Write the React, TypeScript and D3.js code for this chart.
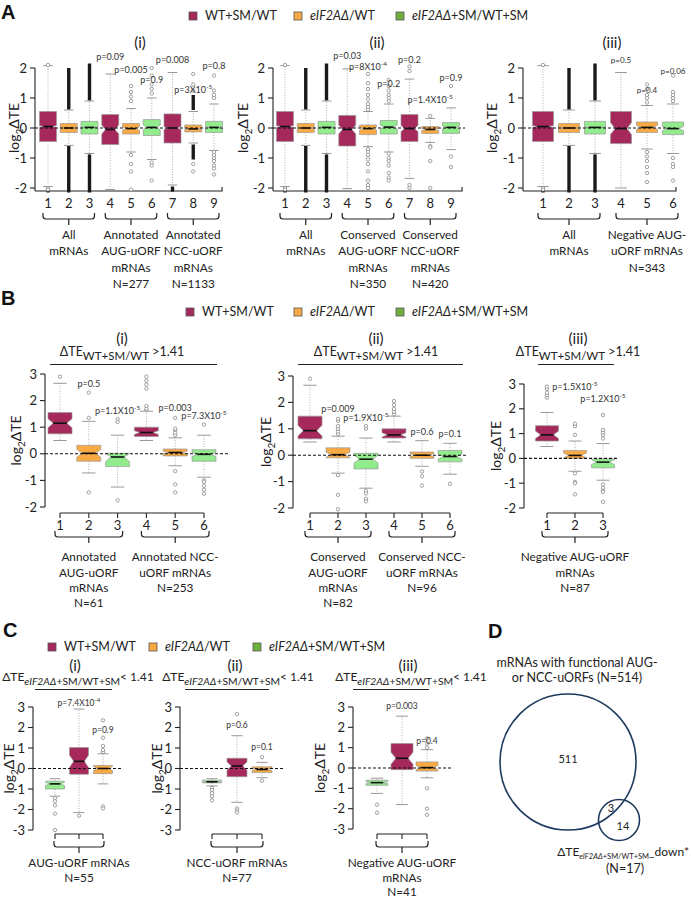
import React from "react";
import * as d3 from "d3";

const FONT = "Lato, 'Noto Sans', sans-serif";
const MAROON = "#A5295B";
const ORANGE = "#F8AA44";
const GREEN = "#92EC8E";
const LEG_GREEN = "#6DB13C";
const SERIES_COLOR: Record<string, string> = { wt: MAROON, ko: ORANGE, kosm: GREEN };

// ---------- shared "all mRNAs" boxes ----------
// stats: [lower whisker, Q1, median, Q3, upper whisker]
const ALL_STATS = [
  [-1.95, -0.45, 0.05, 0.55, 2.08],
  [-0.58, -0.15, 0.0, 0.15, 0.6],
  [-0.85, -0.2, 0.02, 0.22, 0.9],
];
const ALL_NOTCH = [0.03, 0.01, 0.01];
const ALL_OUT = [[2.1, -2.0, -2.05], [], []];
const ALL_DENSE = [[[-2.15, -1.98]], [[0.62, 2.0], [-2.15, -0.6]], [[0.92, 2.15], [-2.15, -0.88]]];

// ---------- Panel A ----------
const A_CATS9 = ["1", "2", "3", "4", "5", "6", "7", "8", "9"];
const A_CATS6 = ["1", "2", "3", "4", "5", "6"];
const A_SERIES = ["wt", "ko", "kosm", "wt", "ko", "kosm", "wt", "ko", "kosm"];

const A1_STATS = [
  ...ALL_STATS,
  [-2.05, -0.55, -0.05, 0.45, 1.8],
  [-0.8, -0.2, -0.02, 0.15, 0.65],
  [-1.05, -0.25, 0.02, 0.28, 1.0],
  [-1.9, -0.5, 0.0, 0.47, 1.85],
  [-0.5, -0.13, -0.03, 0.1, 0.55],
  [-0.75, -0.15, 0.02, 0.22, 0.8],
];
const A1_NOTCH = [...ALL_NOTCH, 0.15, 0.06, 0.08, 0.05, 0.02, 0.03];
const A1_OUT = [
  ...ALL_OUT,
  [],
  [1.4, 1.2, 1.05, 0.9, -0.9, -1.2, -1.45, -2.05],
  [2.0, 1.75, 1.45, 1.3, 1.15, -1.15, -1.25, -1.75],
  [],
  [1.25, 1.45, 1.8, -1.2, -1.45],
  [1.0, 1.1, 1.25, 1.75, -0.8, -0.9, -1.0, -1.1, -1.25, -1.35, -1.55],
];
const A1_DENSE = [...ALL_DENSE, [], [], [], [[-2.12, -1.95]], [[0.6, 1.1], [-1.05, -0.55]], []];
const A1_P = [null, null, null, "p=0.09", "p=0.005", "p=0.9", "p=0.008", "p=3X10^-5", "p=0.8"];
const A1_PY = [0, 0, 0, 2.27, 1.83, 1.5, 2.17, 1.17, 1.97];
const A1_GROUPS = [["All", "mRNAs"], ["Annotated", "AUG-uORF", "mRNAs", "N=277"], ["Annotated", "NCC-uORF", "mRNAs", "N=1133"]];
const A1_SPANS = [[0, 2], [3, 5], [6, 8]];

const A2_STATS = [
  ...ALL_STATS,
  [-2.02, -0.6, -0.05, 0.42, 1.97],
  [-0.62, -0.22, -0.02, 0.1, 0.55],
  [-0.8, -0.2, 0.03, 0.25, 0.8],
  [-1.68, -0.45, -0.02, 0.45, 1.63],
  [-0.48, -0.18, -0.05, 0.05, 0.32],
  [-0.72, -0.18, 0.02, 0.18, 0.67],
];
const A2_NOTCH = [...ALL_NOTCH, 0.15, 0.05, 0.07, 0.1, 0.04, 0.05];
const A2_OUT = [
  ...ALL_OUT,
  [],
  [0.62, 0.7, 0.8, 0.95, 1.1, 1.3, 1.5, 1.8, -0.7, -0.8, -0.9, -1.05, -1.2, -1.45, -1.75, -1.9, -2.0],
  [0.9, 1.0, 1.1, 1.25, 1.4, 1.6, -0.85, -1.0, -1.1, -1.25, -1.5, -1.65, -1.75],
  [1.9, 2.05, -1.9, -2.0],
  [0.4, -0.6, -0.65, -1.1, -2.0],
  [1.4, -0.95, -1.3],
];
const A2_DENSE = [...ALL_DENSE, [], [], [], [], [], []];
const A2_P = [null, null, null, "p=0.03", "p=8X10^-4", "p=0.2", "p=0.2", "p=1.4X10^-5", "p=0.9"];
const A2_PY = [0, 0, 0, 2.3, 1.93, 1.37, 2.17, 0.83, 1.57];
const A2_GROUPS = [["All", "mRNAs"], ["Conserved", "AUG-uORF", "mRNAs", "N=350"], ["Conserved", "NCC-uORF", "mRNAs", "N=420"]];

const A3_STATS = [
  ...ALL_STATS,
  [-2.0, -0.52, -0.02, 0.55, 1.85],
  [-0.7, -0.15, 0.02, 0.2, 0.75],
  [-0.85, -0.22, -0.02, 0.2, 0.8],
];
const A3_NOTCH = [...ALL_NOTCH, 0.2, 0.07, 0.07];
const A3_OUT = [
  ...ALL_OUT,
  [],
  [0.85, 1.0, 1.1, 1.3, 1.45, -0.8, -0.95, -1.1, -1.3, -1.5, -1.8],
  [0.9, 1.0, 1.1, 1.2, 1.75, -1.0, -1.2, -1.3, -1.75],
];
const A3_DENSE = [...ALL_DENSE, [], [], []];
const A3_P = [null, null, null, "p=0.5", "p=0.4", "p=0.06"];
const A3_PY = [0, 0, 0, 2.16, 1.18, 1.8];
const A3_GROUPS = [["All", "mRNAs"], ["Negative AUG-", "uORF mRNAs", "N=343"]];
const A3_SPANS = [[0, 2], [3, 5]];

// ---------- Panel B ----------
const B_SERIES = ["wt", "ko", "kosm", "wt", "ko", "kosm"];
const B1_STATS = [
  [0.5, 0.75, 1.15, 1.55, 2.65],
  [-0.72, -0.28, 0.02, 0.32, 1.22],
  [-1.25, -0.48, -0.12, 0.02, 0.7],
  [0.5, 0.65, 0.8, 1.0, 1.6],
  [-0.45, -0.08, 0.05, 0.18, 0.6],
  [-0.88, -0.28, -0.02, 0.15, 0.7],
];
const B1_NOTCH = [0.17, 0.15, 0.18, 0.07, 0.05, 0.08];
const B1_OUT = [
  [2.9],
  [2.3, 1.35, -1.45],
  [1.3, 1.2, -1.75],
  [1.65, 1.7, 1.8, 2.45, 2.6, 2.75, 2.9],
  [0.7, 0.8, 0.9, 0.95, 1.35, -0.65, -1.15, -1.45],
  [1.1, -1.0, -1.05, -1.2, -1.35, -1.5],
];
const B1_P = [null, "p=0.5", "p=1.1X10^-5", null, "p=0.003", "p=7.3X10^-5"];
const B1_PY = [0, 2.5, 1.5, 0, 1.6, 1.3];
const B1_GROUPS = [["Annotated", "AUG-uORF", "mRNAs", "N=61"], ["Annotated NCC-", "uORF mRNAs", "N=253"]];
const B_SPANS = [[0, 2], [3, 5]];

const B2_STATS = [
  [0.5, 0.62, 0.93, 1.48, 2.65],
  [-0.68, -0.1, 0.02, 0.28, 0.72],
  [-1.25, -0.52, -0.15, 0.07, 0.65],
  [0.5, 0.65, 0.77, 1.0, 1.48],
  [-0.42, -0.12, 0.0, 0.12, 0.55],
  [-0.72, -0.25, -0.05, 0.18, 0.45],
];
const B2_NOTCH = [0.2, 0.1, 0.15, 0.08, 0.06, 0.1];
const B2_OUT = [
  [2.9],
  [0.8, 0.9, 1.0, 1.1, 1.3, 1.38, -0.75, -1.5, -2.05],
  [1.0, 1.1, -1.35, -1.45, -1.65, -1.75],
  [1.55, 1.65, 1.75, 1.9, 2.05],
  [-0.62, -0.8, -1.15],
  [-1.08],
];
const B2_P = [null, "p=0.009", "p=1.9X10^-5", null, "p=0.6", "p=0.1"];
const B2_PY = [0, 1.65, 1.3, 0, 0.78, 0.68];
const B2_GROUPS = [["Conserved", "AUG-uORF", "mRNAs", "N=82"], ["Conserved NCC-", "uORF mRNAs", "N=96"]];

const B3_CATS = ["1", "2", "3"];
const B3_STATS = [
  [0.48, 0.7, 0.95, 1.32, 1.85],
  [-0.52, 0.0, 0.12, 0.32, 0.7],
  [-0.88, -0.38, -0.15, -0.02, 0.6],
];
const B3_NOTCH = [0.15, 0.1, 0.1];
const B3_OUT = [
  [2.45, 2.55, 2.65, 2.8, 2.9],
  [0.95, 1.3, 1.4, -0.6, -0.95, -1.0, -1.45],
  [0.8, 0.95, 1.05, 1.15, 1.75, -1.05, -1.2, -1.3, -1.35, -1.75],
];
const B3_P = [null, "p=1.5X10^-5", "p=1.2X10^-5"];
const B3_PY = [0, 2.75, 2.27];
const B3_GROUPS = [["Negative AUG-uORF", "mRNAs", "N=87"]];
const ONE_SPAN = [[0, 2]];

// ---------- Panel C ----------
const C_CATS = ["1", "2", "3"];
const C_SERIES = ["kosm", "wt", "ko"];
const C1_STATS = [
  [-1.35, -1.0, -0.75, -0.62, -0.5],
  [-2.15, -0.28, 0.35, 1.02, 2.9],
  [-0.75, -0.25, 0.0, 0.15, 0.72],
];
const C1_NOTCH = [0.08, 0.3, 0.1];
const C1_OUT = [[-1.45, -1.6, -1.8, -2.2, -3.0], [-2.3], [0.8, 0.9, 1.1, 1.5, 2.35, -1.85, -1.95]];
const C1_P = [null, "p=7.4X10^-4", "p=0.9"];
const C1_PY = [0, 3.05, 1.75];
const C1_GROUPS = [["AUG-uORF mRNAs", "N=55"]];

const C2_STATS = [
  [-0.85, -0.7, -0.65, -0.57, -0.5],
  [-1.65, -0.4, 0.12, 0.5, 1.6],
  [-0.45, -0.2, -0.05, 0.08, 0.3],
];
const C2_NOTCH = [0.04, 0.2, 0.06];
const C2_OUT = [[-0.95, -1.05, -1.2, -1.35, -1.55], [2.65, -1.95, -2.05, -2.15], [0.55, -0.6]];
const C2_P = [null, "p=0.6", "p=0.1"];
const C2_PY = [0, 2.0, 0.9];
const C2_GROUPS = [["NCC-uORF mRNAs", "N=77"]];

const C3_STATS = [
  [-1.25, -0.85, -0.72, -0.6, -0.5],
  [-1.8, -0.08, 0.48, 1.2, 2.55],
  [-0.48, -0.15, 0.02, 0.3, 0.9],
];
const C3_NOTCH = [0.05, 0.3, 0.1];
const C3_OUT = [[-1.8, -2.2], [], [1.0, 1.2, 1.45, -1.0, -2.0, -2.3]];
const C3_P = [null, "p=0.003", "p=0.4"];
const C3_PY = [0, 2.9, 1.2];
const C3_GROUPS = [["Negative AUG-uORF", "mRNAs", "N=41"]];

// ---------- Panel D ----------
const D_TITLE = ["mRNAs with functional AUG-", "or NCC-uORFs (N=514)"];
const D_COUNTS = [511, 3, 14];
const D_SMALL_N = "(N=17)";

const LEGEND = [
  { key: "wt", color: MAROON, parts: [{ t: "WT+SM/WT", i: false }] },
  { key: "ko", color: ORANGE, parts: [{ t: "eIF2AΔ", i: true }, { t: "/WT", i: false }] },
  { key: "kosm", color: LEG_GREEN, parts: [{ t: "eIF2AΔ", i: true }, { t: "+SM/WT+SM", i: false }] },
];

type Layout = {
  yAxisX: number; yRange: [number, number]; domain: [number, number]; xRange: [number, number];
  boxW: number; axisY: number; style: "L" | "sep"; xEnd: number; dashEnd: number;
  numOff: number | null; brace: [number, number, number]; braceOver: number; lab0: number; lh: number;
  pFont: number; yLabelX: number;
};

type PanelProps = {
  cats: string[]; series: string[]; stats: number[][]; notch: number[]; outliers: number[][];
  dense?: number[][][]; pText: (string | null)[]; pY: number[]; groups: string[][]; spans: number[][];
  L: Layout;
};

function PLabel({ x, y, text, size }: { x: number; y: number; text: string; size: number }) {
  const [base, exp] = text.split("^");
  return (
    <text x={x} y={y} textAnchor="middle" fontSize={size} fill="#333">
      {base}
      {exp && <tspan fontSize={size * 0.72} dy={-size * 0.42}>{exp}</tspan>}
    </text>
  );
}

function boxPath(cx: number, w: number, s: number[], n: number, y: d3.ScaleLinear<number, number>) {
  const l = cx - w / 2, r = cx + w / 2, ins = w * 0.22;
  const [, q1, md, q3] = s;
  const hi = Math.min(md + n, q3), lo = Math.max(md - n, q1);
  return `M${l},${y(q3)}H${r}V${y(hi)}L${r - ins},${y(md)}L${r},${y(lo)}V${y(q1)}H${l}V${y(lo)}L${l + ins},${y(md)}L${l},${y(hi)}Z`;
}

function BoxPanel({ cats, series, stats, notch, outliers, dense, pText, pY, groups, spans, L }: PanelProps) {
  const y = d3.scaleLinear().domain(L.domain).range(L.yRange);
  const x = d3.scalePoint<string>().domain(cats).range(L.xRange);
  const ticks = y.ticks(L.domain[1] - L.domain[0]);
  const top = y(L.domain[1]);
  const bot = y(L.domain[0]);
  const [bTop, bBar, bTick] = L.brace;
  return (
    <g fontFamily={FONT}>
      {/* y axis */}
      <line x1={L.yAxisX} x2={L.yAxisX} y1={top} y2={L.style === "L" ? L.axisY : bot} stroke="#222" strokeWidth={1.1} />
      {ticks.map((t) => (
        <g key={t}>
          <line x1={L.yAxisX - 5} x2={L.yAxisX} y1={y(t)} y2={y(t)} stroke="#222" strokeWidth={1.1} />
          <text x={L.yAxisX - 8} y={y(t)} dy="0.35em" textAnchor="end" fontSize={13} fill="#222">{t}</text>
        </g>
      ))}
      <text transform={`translate(${L.yLabelX},${(top + bot) / 2}) rotate(-90)`} textAnchor="middle" dy="0.35em" fontSize={14} fill="#222">
        log<tspan fontSize={10} dy={4}>2</tspan><tspan dy={-4}>ΔTE</tspan>
      </text>
      {/* x axis */}
      {L.style === "L" ? (
        <path d={`M${L.yAxisX},${L.axisY}H${L.xEnd}V${L.axisY - 4}`} fill="none" stroke="#222" strokeWidth={1.1} />
      ) : (
        <g>
          <line x1={x(cats[0])!} x2={x(cats[cats.length - 1])!} y1={L.axisY} y2={L.axisY} stroke="#222" strokeWidth={1.1} />
          {cats.map((c) => (
            <line key={c} x1={x(c)!} x2={x(c)!} y1={L.axisY} y2={L.axisY + 5} stroke="#222" strokeWidth={1.1} />
          ))}
        </g>
      )}
      {L.numOff !== null &&
        cats.map((c) => (
          <text key={c} x={x(c)!} y={L.axisY + L.numOff!} dy="0.35em" textAnchor="middle" fontSize={13} fill="#222">{c}</text>
        ))}
      {/* boxes */}
      {stats.map((s, i) => {
        const cx = x(cats[i])!;
        const w = L.boxW;
        const [lw, q1, md, q3, uw] = s;
        const ins = w * 0.22;
        return (
          <g key={i}>
            <line x1={cx} x2={cx} y1={y(q3)} y2={y(uw)} stroke="#999" strokeWidth={0.8} strokeDasharray="1,1.6" />
            <line x1={cx} x2={cx} y1={y(q1)} y2={y(lw)} stroke="#999" strokeWidth={0.8} strokeDasharray="1,1.6" />
            <line x1={cx - w * 0.28} x2={cx + w * 0.28} y1={y(uw)} y2={y(uw)} stroke="#999" strokeWidth={1} />
            <line x1={cx - w * 0.28} x2={cx + w * 0.28} y1={y(lw)} y2={y(lw)} stroke="#999" strokeWidth={1} />
            {(dense?.[i] ?? []).map((r, k) => (
              <line key={k} x1={cx} x2={cx} y1={y(r[0])} y2={y(r[1])} stroke="#1a1a1a" strokeWidth={3.4} />
            ))}
            {outliers[i].map((o, k) => (
              <circle key={k} cx={cx} cy={y(o)} r={1.7} fill="#fff" stroke="#8a8a8a" strokeWidth={0.8} />
            ))}
            <path d={boxPath(cx, w, s, notch[i], y)} fill={SERIES_COLOR[series[i]]} stroke="#9a9a9a" strokeWidth={0.7} />
            <line x1={cx - w / 2 + ins} x2={cx + w / 2 - ins} y1={y(md)} y2={y(md)} stroke="#111" strokeWidth={1.6} />
          </g>
        );
      })}
      {/* zero line */}
      <line x1={L.yAxisX} x2={L.dashEnd} y1={y(0)} y2={y(0)} stroke="#111" strokeWidth={1.1} strokeDasharray="3,2" />
      {/* p-values */}
      {pText.map((p, i) => (p ? <PLabel key={i} x={x(cats[i])!} y={y(pY[i])} text={p} size={L.pFont} /> : null))}
      {/* group braces */}
      {spans.map(([a, b], gi) => {
        const x0 = x(cats[a])! - L.braceOver, x1 = x(cats[b])! + L.braceOver, cx = (x0 + x1) / 2, r = 3;
        return (
          <g key={gi}>
            <path
              d={`M${x0},${bTop}V${bBar - r}Q${x0},${bBar} ${x0 + r},${bBar}H${x1 - r}Q${x1},${bBar} ${x1},${bBar - r}V${bTop}M${cx},${bBar}V${bTick}`}
              fill="none" stroke="#222" strokeWidth={1.2}
            />
            {groups[gi].map((t, li) => (
              <text key={li} x={cx} y={L.lab0 + li * L.lh} dy="0.35em" textAnchor="middle" fontSize={11.8} fill="#222">{t}</text>
            ))}
          </g>
        );
      })}
    </g>
  );
}

function Legend({ y, xs }: { y: number; xs: number[] }) {
  return (
    <g fontFamily={FONT} fontSize={12.5} fill="#222">
      {LEGEND.map((d, i) => (
        <g key={d.key}>
          <rect x={xs[i] - 4} y={y - 4} width={8} height={8} fill={d.color} stroke="#555" strokeWidth={0.8} />
          <text x={xs[i] + 12} y={y} dy="0.35em">
            {d.parts.map((p, k) => (
              <tspan key={k} fontStyle={p.i ? "italic" : "normal"}>{p.t}</tspan>
            ))}
          </text>
        </g>
      ))}
    </g>
  );
}

function TitleB({ cx, num, x0, x1 }: { cx: number; num: string; x0: number; x1: number }) {
  return (
    <g fontFamily={FONT} fill="#222">
      <text x={cx} y={339} dy="0.35em" textAnchor="middle" fontSize={15}>{num}</text>
      <text x={cx} y={356} textAnchor="middle" fontSize={12.5}>
        ΔTE<tspan fontSize={11.5} dy={4}>WT+SM/WT</tspan><tspan dy={-4}> &gt;1.41</tspan>
      </text>
      <line x1={x0} x2={x1} y1={364.5} y2={364.5} stroke="#222" strokeWidth={1.2} />
    </g>
  );
}

function TitleC({ cx, num, x0, x1 }: { cx: number; num: string; x0: number; x1: number }) {
  return (
    <g fontFamily={FONT} fill="#222">
      <text x={cx - 3} y={666} dy="0.35em" textAnchor="middle" fontSize={15}>{num}</text>
      <text x={cx} y={681} textAnchor="middle" fontSize={12}>
        ΔTE<tspan fontSize={10.3} dy={3.5} fontStyle="italic">eIF2AΔ</tspan><tspan fontSize={10.3}>+SM/WT+SM</tspan><tspan dy={-3.5}>&lt; 1.41</tspan>
      </text>
      <line x1={x0} x2={x1} y1={689.5} y2={689.5} stroke="#222" strokeWidth={1.2} />
    </g>
  );
}

const A_BASE = { domain: [-2, 2] as [number, number], yRange: [188, 68] as [number, number], axisY: 191, style: "L" as const, numOff: 12, brace: [213, 219, 225] as [number, number, number], braceOver: 5, lab0: 235, lh: 16.3 };
const B_BASE = { domain: [-2, 3] as [number, number], axisY: 513, style: "sep" as const, numOff: 12, brace: [531, 537, 543] as [number, number, number], braceOver: 5, lab0: 557, lh: 15.4, pFont: 9, xEnd: 0 };
const C_BASE = { domain: [-3, 3] as [number, number], axisY: 834, style: "sep" as const, numOff: null, brace: [841, 847, 853] as [number, number, number], braceOver: 1, lab0: 863, lh: 14.5, pFont: 8.5, xEnd: 0 };

export default function App() {
  return (
    <div>
      <style>{`body{margin:0;background:#fff}`}</style>
      <svg width={691} height={899} style={{ display: "block" }}>
        <rect width={691} height={899} fill="#fff" />
        <g fontFamily="'Liberation Sans', Arial, sans-serif" fontWeight="bold" fontSize={20} fill="#111">
          <text x={1} y={19}>A</text>
          <text x={1} y={305}>B</text>
          <text x={3} y={637}>C</text>
          <text x={488} y={638}>D</text>
        </g>

        <Legend y={16} xs={[193, 298, 400]} />
        <Legend y={312} xs={[190, 298, 400]} />
        <Legend y={647} xs={[52, 153, 257]} />

        {/* Panel A titles */}
        <g fontFamily={FONT} fontSize={15} fill="#222" textAnchor="middle">
          <text x={140} y={43} dy="0.35em">(i)</text>
          <text x={377} y={43} dy="0.35em">(ii)</text>
          <text x={612} y={43} dy="0.35em">(iii)</text>
        </g>
        <BoxPanel cats={A_CATS9} series={A_SERIES} stats={A1_STATS} notch={A1_NOTCH} outliers={A1_OUT} dense={A1_DENSE}
          pText={A1_P} pY={A1_PY} groups={A1_GROUPS} spans={A1_SPANS}
          L={{ ...A_BASE, yAxisX: 35, xRange: [48, 214], boxW: 17, xEnd: 222, dashEnd: 224, pFont: 9, yLabelX: 14 }} />
        <BoxPanel cats={A_CATS9} series={A_SERIES} stats={A2_STATS} notch={A2_NOTCH} outliers={A2_OUT} dense={A2_DENSE}
          pText={A2_P} pY={A2_PY} groups={A2_GROUPS} spans={A1_SPANS}
          L={{ ...A_BASE, yAxisX: 273, xRange: [285, 451], boxW: 17, xEnd: 462, dashEnd: 465, pFont: 9, yLabelX: 243 }} />
        <BoxPanel cats={A_CATS6} series={A_SERIES} stats={A3_STATS} notch={A3_NOTCH} outliers={A3_OUT} dense={A3_DENSE}
          pText={A3_P} pY={A3_PY} groups={A3_GROUPS} spans={A3_SPANS}
          L={{ ...A_BASE, yAxisX: 523, xRange: [543, 673], boxW: 21, xEnd: 676, dashEnd: 678, pFont: 8, yLabelX: 492 }} />

        {/* Panel B */}
        <TitleB cx={122} num="(i)" x0={50} x1={217} />
        <TitleB cx={376} num="(ii)" x0={298} x1={463} />
        <TitleB cx={578} num="(iii)" x0={538} x1={614} />
        <BoxPanel cats={A_CATS6} series={B_SERIES} stats={B1_STATS} notch={B1_NOTCH} outliers={B1_OUT}
          pText={B1_P} pY={B1_PY} groups={B1_GROUPS} spans={B_SPANS}
          L={{ ...B_BASE, yAxisX: 45, yRange: [507, 374], xRange: [60, 204], boxW: 24, dashEnd: 229, yLabelX: 16 }} />
        <BoxPanel cats={A_CATS6} series={B_SERIES} stats={B2_STATS} notch={B2_NOTCH} outliers={B2_OUT}
          pText={B2_P} pY={B2_PY} groups={B2_GROUPS} spans={B_SPANS}
          L={{ ...B_BASE, yAxisX: 293, yRange: [508, 376], xRange: [310, 450], boxW: 24, dashEnd: 467, yLabelX: 266 }} />
        <BoxPanel cats={B3_CATS} series={B_SERIES} stats={B3_STATS} notch={B3_NOTCH} outliers={B3_OUT}
          pText={B3_P} pY={B3_PY} groups={B3_GROUPS} spans={ONE_SPAN}
          L={{ ...B_BASE, yAxisX: 524, yRange: [508, 384], xRange: [547, 603], boxW: 23, dashEnd: 617, yLabelX: 496 }} />

        {/* Panel C */}
        <TitleC cx={78} num="(i)" x0={35} x1={112} />
        <TitleC cx={238} num="(ii)" x0={185} x1={269} />
        <TitleC cx={411} num="(iii)" x0={353} x1={429} />
        <BoxPanel cats={C_CATS} series={C_SERIES} stats={C1_STATS} notch={C1_NOTCH} outliers={C1_OUT}
          pText={C1_P} pY={C1_PY} groups={C1_GROUPS} spans={ONE_SPAN}
          L={{ ...C_BASE, yAxisX: 33, yRange: [830, 707], xRange: [55, 103], boxW: 19, dashEnd: 122, yLabelX: 9 }} />
        <BoxPanel cats={C_CATS} series={C_SERIES} stats={C2_STATS} notch={C2_NOTCH} outliers={C2_OUT}
          pText={C2_P} pY={C2_PY} groups={C2_GROUPS} spans={ONE_SPAN}
          L={{ ...C_BASE, yAxisX: 180, yRange: [830, 707], xRange: [212, 262], boxW: 20, dashEnd: 283, yLabelX: 157 }} />
        <BoxPanel cats={C_CATS} series={C_SERIES} stats={C3_STATS} notch={C3_NOTCH} outliers={C3_OUT}
          pText={C3_P} pY={C3_PY} groups={C3_GROUPS} spans={ONE_SPAN}
          L={{ ...C_BASE, yAxisX: 353, yRange: [829, 707], xRange: [377, 427], boxW: 22, dashEnd: 452, yLabelX: 320 }} />

        {/* Panel D */}
        <g fontFamily={FONT} fill="#222">
          {D_TITLE.map((t, i) => (
            <text key={i} x={577} y={663 + i * 15} dy="0.35em" textAnchor="middle" fontSize={12.5}>{t}</text>
          ))}
          <circle cx={568} cy={762} r={68} fill="none" stroke="#1F3A5F" strokeWidth={1.6} />
          <circle cx={619} cy={820} r={20.5} fill="none" stroke="#1F3A5F" strokeWidth={1.6} />
          <text x={568} y={759} dy="0.35em" textAnchor="middle" fontSize={11}>{D_COUNTS[0]}</text>
          <text x={611} y={808} dy="0.35em" textAnchor="middle" fontSize={11}>{D_COUNTS[1]}</text>
          <text x={623} y={826} dy="0.35em" textAnchor="middle" fontSize={11}>{D_COUNTS[2]}</text>
          <text x={689} y={856} textAnchor="end" fontSize={12}>
            ΔTE<tspan fontSize={7.5} dy={3} fontStyle="italic">eIF2AΔ</tspan><tspan fontSize={7.5}>+SM/WT+SM</tspan><tspan dy={-3}>_down*</tspan>
          </text>
          <text x={625} y={869} dy="0.35em" textAnchor="middle" fontSize={12.5}>{D_SMALL_N}</text>
        </g>
      </svg>
    </div>
  );
}
